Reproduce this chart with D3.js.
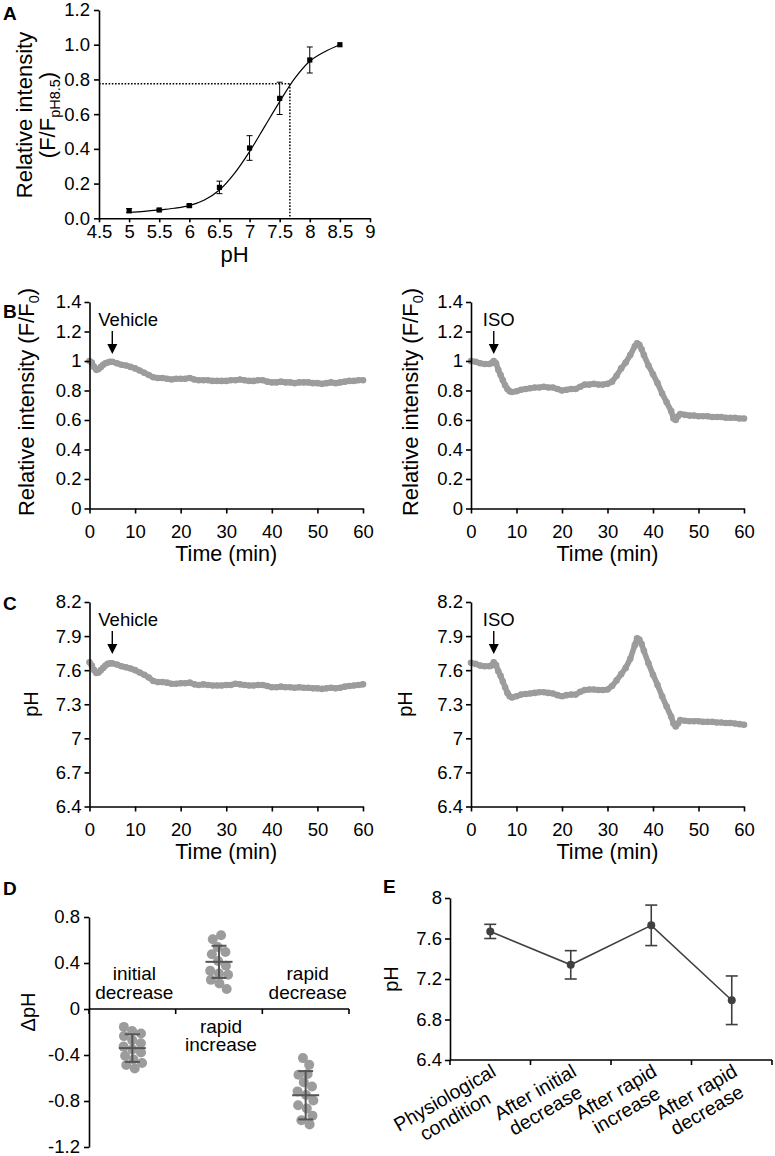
<!DOCTYPE html>
<html><head><meta charset="utf-8">
<script src="https://cdn.jsdelivr.net/npm/d3@7"></script>
<style>
body{margin:0;background:#fff;}
svg{display:block;}
svg text{font-weight:normal;}
</style></head><body>
<svg id="fig" width="775" height="1156"></svg>
<script>
// ================= DATA =================
// Panel A: calibration
const calibPH = [5, 5.5, 6, 6.5, 7, 7.5, 8, 8.5];
const calibIntensity = [0.044, 0.048, 0.073, 0.178, 0.405, 0.691, 0.912, 1.0];
const calibError = [0.012, 0.005, 0.008, 0.036, 0.071, 0.093, 0.075, 0];
const fitPH = [5, 5.25, 5.5, 5.75, 6, 6.25, 6.5, 6.75, 7, 7.25, 7.5, 7.75, 8, 8.25, 8.5];
const fitIntensity = [0.035, 0.04, 0.048, 0.058, 0.073, 0.105, 0.163, 0.259, 0.384, 0.528, 0.672, 0.806, 0.905, 0.96, 1.0];
const cutoffIntensity = 0.775;
const cutoffPH = 7.67;
const calibXTicks = [4.5, 5, 5.5, 6, 6.5, 7, 7.5, 8, 8.5, 9];
const calibYTicks = [0, 0.2, 0.4, 0.6, 0.8, 1.0, 1.2];

// Panels B & C: time courses
const timeTicks = [0, 10, 20, 30, 40, 50, 60];
const intensityTicks = [0, 0.2, 0.4, 0.6, 0.8, 1, 1.2, 1.4];
const phTicks = [6.4, 6.7, 7, 7.3, 7.6, 7.9, 8.2];

const timeVehicle = [0,0.5,1,1.5,2,2.5,3,3.5,4,4.5,5,6,7,8,9,10,11,12,13,14,15,16,17,18,19,20,21,22,23,24,25,26,27,28,29,30,31,32,33,34,35,36,37,38,39,40,41,42,43,44,45,46,47,48,49,50,51,52,53,54,55,56,57,58,59,60];
const intensityVehicle = [1.00,0.99,0.96,0.94,0.945,0.96,0.975,0.985,0.99,0.995,
  0.995,0.985,0.975,0.97,0.96,0.95,0.935,0.92,0.905,0.89,
  0.885,0.885,0.88,0.875,0.88,0.88,0.88,0.885,0.875,0.87,
  0.87,0.87,0.865,0.865,0.865,0.865,0.87,0.87,0.875,0.87,
  0.865,0.865,0.87,0.87,0.86,0.855,0.855,0.86,0.855,0.855,
  0.85,0.855,0.855,0.855,0.85,0.85,0.845,0.85,0.855,0.85,
  0.855,0.86,0.865,0.865,0.87,0.87];
const phVehicle = [7.67,7.64,7.60,7.575,7.58,7.60,7.62,7.64,7.655,7.66,
  7.66,7.65,7.635,7.625,7.615,7.60,7.58,7.56,7.535,7.505,
  7.495,7.495,7.49,7.48,7.48,7.485,7.485,7.49,7.475,7.47,
  7.475,7.47,7.465,7.465,7.465,7.47,7.47,7.48,7.475,7.47,
  7.465,7.465,7.47,7.47,7.46,7.45,7.45,7.455,7.45,7.45,
  7.445,7.45,7.445,7.445,7.44,7.44,7.435,7.44,7.445,7.44,
  7.445,7.455,7.46,7.465,7.47,7.475];

const timeISO = [0,1,2,3,4,4.5,5,5.5,6,6.5,7,7.5,8,8.5,9,10,11,12,13,14,15,16,17,18,19,20,21,22,23,24,25,26,27,28,29,30,31,32,33,34,35,36,36.5,37,37.5,38,39,40,41,42,43,44,44.5,45,45.5,46,47,48,49,50,51,52,53,54,55,56,57,58,59,60];
const intensityISO = [1.0,0.995,0.985,0.98,0.98,
  0.985,1.0,0.985,0.94,0.905,0.87,0.835,0.81,0.795,
  0.79,0.795,0.805,0.81,0.815,0.82,0.82,0.825,0.82,0.82,0.81,0.80,0.805,0.81,0.81,0.825,0.84,0.84,0.845,0.84,0.84,0.845,0.86,0.90,0.95,0.99,1.04,1.10,
  1.12,1.11,1.08,
  1.04,0.97,0.91,0.85,0.78,0.72,0.66,
  0.61,0.60,0.625,
  0.64,0.635,0.63,0.63,0.625,0.625,0.625,0.62,0.62,0.62,0.615,0.615,0.615,0.61,0.61];
const phISO = [7.665,7.655,7.64,7.635,7.635,
  7.64,7.67,7.645,7.59,7.55,7.50,7.45,7.40,7.37,
  7.36,7.37,7.385,7.39,7.395,7.40,7.405,7.405,7.40,7.395,7.38,7.37,7.38,7.385,7.385,7.41,7.425,7.43,7.43,7.425,7.425,7.43,7.46,7.51,7.565,7.62,7.70,7.82,
  7.88,7.87,7.83,
  7.77,7.66,7.56,7.47,7.37,7.28,7.19,
  7.13,7.105,7.13,
  7.16,7.155,7.15,7.15,7.15,7.145,7.145,7.145,7.14,7.14,7.135,7.135,7.13,7.125,7.12];
const treatmentTime = 5;

// Panel D: delta pH
const dphCategories = [["initial","decrease"],["rapid","increase"],["rapid","decrease"]];
const dphInitial = [-0.16,-0.19,-0.21,-0.24,-0.27,-0.30,-0.33,-0.35,-0.37,-0.41,-0.44,-0.47,-0.49,-0.51];
const dphRapidIncrease = [0.64,0.60,0.54,0.50,0.47,0.42,0.38,0.33,0.31,0.30,0.25,0.22,0.18];
const dphRapidDecrease = [-0.43,-0.49,-0.56,-0.58,-0.63,-0.67,-0.72,-0.75,-0.79,-0.84,-0.87,-0.92,-0.97,-1.0];
const dphMean = [-0.34, 0.41, -0.75];
const dphSD = [0.12, 0.14, 0.21];
const dphTicks = [-1.2, -0.8, -0.4, 0, 0.4, 0.8];

// Panel E: pH per condition
const eCategories = [["Physiological","condition"],["After initial","decrease"],["After rapid","increase"],["After rapid","decrease"]];
const ePH = [7.67, 7.34, 7.73, 6.99];
const eSD = [0.07, 0.14, 0.20, 0.24];
const eTicks = [6.4, 6.8, 7.2, 7.6, 8];

// ================= DRAWING =================
const FONT = '"Liberation Sans", Arial, Helvetica, sans-serif';
const TICK_FS = 18.5, TITLE_FS = 22;
const svg = d3.select("#fig").style("font-family", FONT);
const GREY = "#9c9c9c";

function styleAxis(g, fs) {
  g.attr("font-family", null).attr("font-size", null);
  g.select(".domain").attr("stroke", "#000").attr("stroke-width", 1.6);
  g.selectAll(".tick line").attr("stroke", "#000").attr("stroke-width", 1.6);
  g.selectAll(".tick text").attr("fill", "#000").style("font-size", (fs || TICK_FS) + "px").style("font-family", FONT);
}
function panelLetter(x, y, t) {
  svg.append("text").attr("x", x).attr("y", y).text(t)
    .style("font-size", "19px").style("font-weight", "bold").attr("fill", "#000");
}
function rotTitle(x, y, fs) {
  return svg.append("text").attr("transform", `translate(${x},${y}) rotate(-90)`)
    .attr("text-anchor", "middle").style("font-size", fs + "px").attr("fill", "#000");
}
const fmtGeneral = d => String(+d.toFixed(2));

// ---------- Panel A ----------
{
  const xA = d3.scaleLinear().domain([4.5, 9]).range([99, 370]);
  const yA = d3.scaleLinear().domain([0, 1.2]).range([218.3, 10]);
  const g = svg.append("g");
  g.append("line").attr("x1", xA(4.5)).attr("x2", xA(cutoffPH)).attr("y1", yA(cutoffIntensity)).attr("y2", yA(cutoffIntensity))
    .attr("stroke", "#000").attr("stroke-width", 1.5).attr("stroke-dasharray", "1.6,1.6");
  g.append("line").attr("x1", xA(cutoffPH)).attr("x2", xA(cutoffPH)).attr("y1", yA(cutoffIntensity)).attr("y2", yA(0))
    .attr("stroke", "#000").attr("stroke-width", 1.5).attr("stroke-dasharray", "1.6,1.6");
  g.append("path").datum(fitPH.map((p, i) => [p, fitIntensity[i]]))
    .attr("d", d3.line().x(d => xA(d[0])).y(d => yA(d[1])).curve(d3.curveCatmullRom))
    .attr("fill", "none").attr("stroke", "#000").attr("stroke-width", 1.2);
  calibPH.forEach((p, i) => {
    const e = calibError[i];
    if (e <= 0) return;
    const x = xA(p), y1 = yA(calibIntensity[i] - e), y2 = yA(calibIntensity[i] + e);
    g.append("line").attr("x1", x).attr("x2", x).attr("y1", y1).attr("y2", y2).attr("stroke", "#000").attr("stroke-width", 1);
    [y1, y2].forEach(y => g.append("line").attr("x1", x - 3).attr("x2", x + 3).attr("y1", y).attr("y2", y).attr("stroke", "#000").attr("stroke-width", 1));
  });
  g.selectAll("rect.m").data(calibPH).join("rect").attr("class", "m")
    .attr("x", d => xA(d) - 2.6).attr("y", (d, i) => yA(calibIntensity[i]) - 2.6)
    .attr("width", 5.2).attr("height", 5.2).attr("fill", "#000");
  const ax = g.append("g").attr("transform", `translate(0,${yA(0)})`)
    .call(d3.axisBottom(xA).tickValues(calibXTicks).tickSize(4).tickSizeOuter(0).tickPadding(3).tickFormat(d => String(d)));
  styleAxis(ax);
  const ay = g.append("g").attr("transform", `translate(${xA(4.5)},0)`)
    .call(d3.axisLeft(yA).tickValues(calibYTicks).tickSize(5).tickSizeOuter(0).tickPadding(4).tickFormat(d3.format(".1f")));
  styleAxis(ay);
  rotTitle(31.5, 115, TITLE_FS).text("Relative intensity");
  const t2 = rotTitle(55, 115, TITLE_FS);
  t2.append("tspan").text("(F/F");
  t2.append("tspan").text("pH8.5").attr("dy", 5).style("font-size", "14.5px");
  t2.append("tspan").text(")").attr("dy", -5);
  svg.append("text").attr("x", (xA(4.5) + xA(9)) / 2).attr("y", 262).attr("text-anchor", "middle")
    .style("font-size", TITLE_FS + "px").text("pH");
  panelLetter(3, 20, "A");
}

// ---------- Panels B & C ----------
function drawTrace(o) {
  const x = d3.scaleLinear().domain([0, 60]).range(o.xRange);
  const y = d3.scaleLinear().domain(o.yDomain).range(o.yRange);
  const g = svg.append("g");
  const pts = o.time.map((t, i) => [t, o.values[i]]);
  g.append("path").datum(pts)
    .attr("d", d3.line().x(d => x(d[0])).y(d => y(d[1])))
    .attr("fill", "none").attr("stroke", GREY).attr("stroke-width", 5.6)
    .attr("stroke-linejoin", "round").attr("stroke-linecap", "round");
  g.selectAll("circle").data(pts).join("circle")
    .attr("cx", d => x(d[0])).attr("cy", d => y(d[1])).attr("r", 3.3).attr("fill", GREY);
  const ax = g.append("g").attr("transform", `translate(0,${o.yRange[0]})`)
    .call(d3.axisBottom(x).tickValues(timeTicks).tickSize(5).tickSizeOuter(0).tickPadding(11));
  styleAxis(ax);
  const ay = g.append("g").attr("transform", `translate(${o.xRange[0]},0)`)
    .call(d3.axisLeft(y).tickValues(o.yTicks).tickSize(5).tickSizeOuter(0).tickPadding(3).tickFormat(fmtGeneral));
  styleAxis(ay);
  g.append("text").attr("x", (o.xRange[0] + o.xRange[1]) / 2).attr("y", o.yRange[0] + 52.5)
    .attr("text-anchor", "middle").style("font-size", "21.5px").text("Time (min)");
  const yt = rotTitle(o.titleX, o.titleY, o.titleFS);
  o.title(yt);
  const top = o.yRange[1], ax5 = x(treatmentTime);
  g.append("text").attr("x", ax5 + o.labelDx).attr("y", top + 24).style("font-size", "18.5px").text(o.label);
  g.append("line").attr("x1", ax5).attr("x2", ax5).attr("y1", top + 29).attr("y2", top + 43)
    .attr("stroke", "#000").attr("stroke-width", 1.4);
  g.append("path").attr("d", `M${ax5 - 5},${top + 42}L${ax5 + 5},${top + 42}L${ax5},${top + 52}Z`).attr("fill", "#000");
}
const intensityTitle = t => {
  t.append("tspan").text("Relative intensity (F/F");
  t.append("tspan").text("0").attr("dy", 5).style("font-size", "14.5px");
  t.append("tspan").text(")").attr("dy", -5);
};
const phTitle = t => t.text("pH");

drawTrace({ xRange: [89.5, 363], yDomain: [0, 1.4], yRange: [508.5, 302], yTicks: intensityTicks,
  time: timeVehicle, values: intensityVehicle, titleX: 34, titleY: 402, titleFS: TITLE_FS, title: intensityTitle,
  label: "Vehicle", labelDx: -14 });
drawTrace({ xRange: [471, 744], yDomain: [0, 1.4], yRange: [508.5, 302], yTicks: intensityTicks,
  time: timeISO, values: intensityISO, titleX: 418, titleY: 402, titleFS: TITLE_FS, title: intensityTitle,
  label: "ISO", labelDx: -11 });
drawTrace({ xRange: [89.5, 363], yDomain: [6.4, 8.2], yRange: [806.5, 602], yTicks: phTicks,
  time: timeVehicle, values: phVehicle, titleX: 38, titleY: 704, titleFS: 20, title: phTitle,
  label: "Vehicle", labelDx: -14 });
drawTrace({ xRange: [471, 744], yDomain: [6.4, 8.2], yRange: [806.5, 602], yTicks: phTicks,
  time: timeISO, values: phISO, titleX: 412, titleY: 704, titleFS: 20, title: phTitle,
  label: "ISO", labelDx: -11 });
panelLetter(3, 318, "B");
panelLetter(3, 610, "C");

// ---------- Panel D ----------
{
  const catKeys = dphCategories.map(c => c.join(" "));
  const groups = [dphInitial, dphRapidIncrease, dphRapidDecrease];
  const xD = d3.scaleBand().domain(catKeys).range([89, 349]).padding(0);
  const yD = d3.scaleLinear().domain([-1.2, 0.8]).range([1147, 917]);
  const g = svg.append("g");
  const nodes = [];
  groups.forEach((arr, gi) => arr.forEach(v => {
    const cx = xD(catKeys[gi]) + xD.bandwidth() / 2;
    nodes.push({ v, cx, ty: yD(v), x: cx + ((nodes.length % 3) - 1) * 4, y: yD(v) });
  }));
  const sim = d3.forceSimulation(nodes)
    .force("x", d3.forceX(d => d.cx).strength(0.12))
    .force("y", d3.forceY(d => d.ty).strength(1))
    .force("c", d3.forceCollide(4.6))
    .stop();
  for (let i = 0; i < 300; i++) sim.tick();
  g.selectAll("circle").data(nodes).join("circle")
    .attr("cx", d => d.x).attr("cy", d => d.y).attr("r", 5).attr("fill", GREY);
  catKeys.forEach((k, i) => {
    const cx = xD(k) + xD.bandwidth() / 2;
    const ym = yD(dphMean[i]), y1 = yD(dphMean[i] - dphSD[i]), y2 = yD(dphMean[i] + dphSD[i]);
    const st = s => s.attr("stroke", "#555").attr("stroke-width", 2);
    st(g.append("line").attr("x1", cx).attr("x2", cx).attr("y1", y1).attr("y2", y2));
    st(g.append("line").attr("x1", cx - 13.5).attr("x2", cx + 13.5).attr("y1", ym).attr("y2", ym));
    [y1, y2].forEach(y => st(g.append("line").attr("x1", cx - 7.5).attr("x2", cx + 7.5).attr("y1", y).attr("y2", y)));
  });
  const ay = g.append("g").attr("transform", `translate(89,0)`)
    .call(d3.axisLeft(yD).tickValues(dphTicks).tickSize(5).tickSizeOuter(0).tickPadding(4).tickFormat(d => String(d)));
  styleAxis(ay);
  const y0 = yD(0);
  g.append("line").attr("x1", xD.range()[0]).attr("x2", xD.range()[1]).attr("y1", y0).attr("y2", y0)
    .attr("stroke", "#000").attr("stroke-width", 1.6);
  const bounds = catKeys.map(k => xD(k)).concat([xD.range()[1]]);
  bounds.forEach(bx => g.append("line").attr("x1", bx).attr("x2", bx).attr("y1", y0).attr("y2", y0 + 5)
    .attr("stroke", "#000").attr("stroke-width", 1.6));
  // category labels (two lines in one text element)
  dphCategories.forEach((lines, i) => {
    const cx = xD(catKeys[i]) + xD.bandwidth() / 2;
    const baseY = dphMean[i] < 0 ? y0 - 29 : y0 + 23.5;
    const t = g.append("text").attr("x", cx + 2).attr("y", baseY).attr("text-anchor", "middle")
      .style("font-size", "19px");
    lines.forEach((ln, j) => t.append("tspan").attr("x", cx + 2).attr("dy", j === 0 ? 0 : 18.8).text(ln));
  });
  rotTitle(35, 1012, 20).text("ΔpH");
  panelLetter(3, 895, "D");
}

// ---------- Panel E ----------
{
  const catKeys = eCategories.map(c => c.join(" "));
  const xE = d3.scaleBand().domain(catKeys).range([450, 772]).padding(0);
  const yE = d3.scaleLinear().domain([6.4, 8]).range([1060, 898]);
  const g = svg.append("g");
  const cxOf = i => xE(catKeys[i]) + xE.bandwidth() / 2;
  const C = "#404040";
  ePH.forEach((v, i) => {
    const cx = cxOf(i), y1 = yE(v - eSD[i]), y2 = yE(v + eSD[i]);
    g.append("line").attr("x1", cx).attr("x2", cx).attr("y1", y1).attr("y2", y2).attr("stroke", C).attr("stroke-width", 1.6);
    [y1, y2].forEach(y => g.append("line").attr("x1", cx - 6).attr("x2", cx + 6).attr("y1", y).attr("y2", y).attr("stroke", C).attr("stroke-width", 1.6));
  });
  g.append("path").datum(ePH).attr("d", d3.line().x((d, i) => cxOf(i)).y(d => yE(d)))
    .attr("fill", "none").attr("stroke", C).attr("stroke-width", 1.6);
  g.selectAll("circle").data(ePH).join("circle").attr("cx", (d, i) => cxOf(i)).attr("cy", d => yE(d)).attr("r", 4).attr("fill", C);
  const ay = g.append("g").attr("transform", `translate(450,0)`)
    .call(d3.axisLeft(yE).tickValues(eTicks).tickSize(5).tickSizeOuter(0).tickPadding(3).tickFormat(d => String(d)));
  styleAxis(ay);
  const yb = yE(6.4);
  g.append("line").attr("x1", xE.range()[0]).attr("x2", xE.range()[1]).attr("y1", yb).attr("y2", yb)
    .attr("stroke", "#000").attr("stroke-width", 1.6);
  catKeys.map(k => xE(k)).concat([xE.range()[1]]).forEach(bx =>
    g.append("line").attr("x1", bx).attr("x2", bx).attr("y1", yb).attr("y2", yb + 5).attr("stroke", "#000").attr("stroke-width", 1.6));
  // rotated two-line category labels (one text element each)
  eCategories.forEach((lines, i) => {
    const lg = g.append("g").attr("transform", `translate(${cxOf(i)},${yb + 3}) rotate(-30)`);
    const t = lg.append("text").attr("y", 14).attr("text-anchor", "middle").style("font-size", "19.5px");
    const ts = lines.map((ln, j) => t.append("tspan").attr("dy", j === 0 ? 0 : 21).text(ln));
    const w = d3.max(ts, s => s.node().getComputedTextLength());
    ts.forEach(s => s.attr("x", -w / 2));
  });
  rotTitle(398, 979, 20).text("pH");
  panelLetter(383, 893, "E");
}
</script>
</body></html>
